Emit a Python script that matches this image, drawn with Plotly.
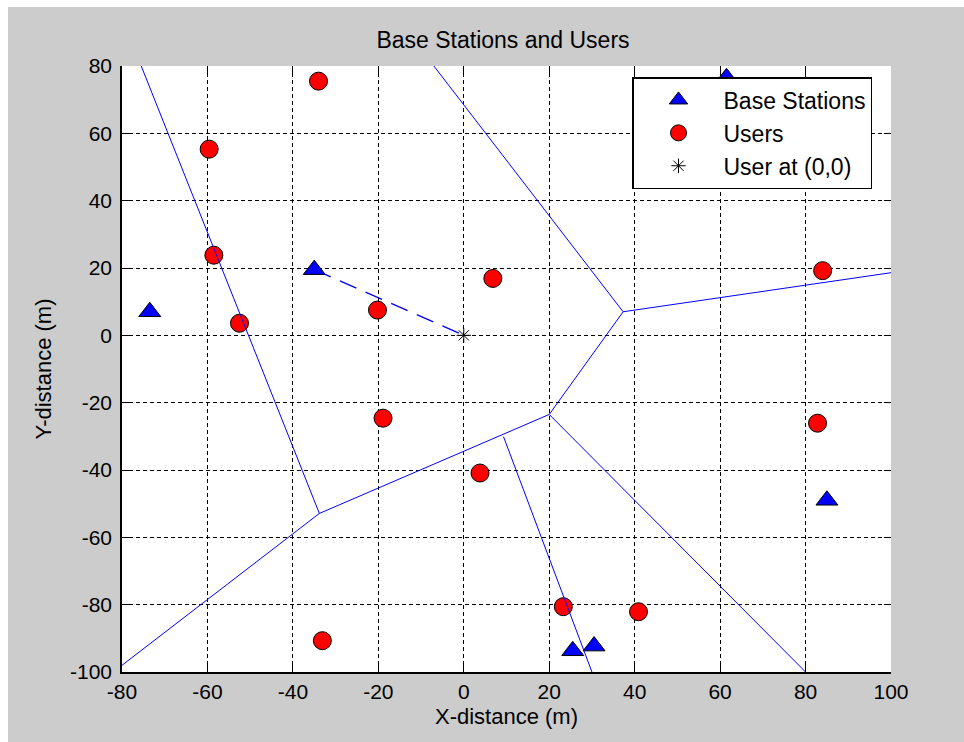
import plotly.graph_objects as go

# ---- data ----
bs_x = [-73.5, -35.0, 61.5, 85.0, 25.5, 30.5]
bs_y = [7.0, 19.5, 76.5, -49.0, -93.7, -92.3]

user_x = [-34.0, -59.6, -58.5, -52.5, -20.2, -18.9, 6.8, 84.0, 82.8, 3.8, 23.3, 40.9, -33.1]
user_y = [75.5, 55.3, 23.8, 3.6, 7.5, -24.6, 16.9, 19.2, -26.1, -40.9, -80.6, -82.1, -90.7]

origin_x = [0.0]
origin_y = [0.0]

link_x = [-35.0, 0.0]
link_y = [19.5, 0.0]

edge_x0 = [-75.5, -33.8, -33.8, 9.3, 20.0, 37.3, 37.3, 20.0]
edge_y0 = [80.0, -52.9, -52.9, -30.1, -23.5, 7.0, 7.0, -23.5]
edge_x1 = [-33.8, -80.0, 20.0, 30.0, 37.3, 100.0, -7.0, 80.0]
edge_y1 = [-52.9, -98.0, -23.5, -100.0, 7.0, 18.6, 80.0, -100.0]

x_ticks = [-80, -60, -40, -20, 0, 20, 40, 60, 80, 100]
x_ticklabels = ["-80", "-60", "-40", "-20", "0", "20", "40", "60", "80", "100"]
y_ticks = [-100, -80, -60, -40, -20, 0, 20, 40, 60, 80]
y_ticklabels = ["-100", "-80", "-60", "-40", "-20", "0", "20", "40", "60", "80"]

# ---- build segment arrays ----
ex, ey = [], []
for a, b, c, d in zip(edge_x0, edge_y0, edge_x1, edge_y1):
    ex += [a, c, None]
    ey += [b, d, None]

FONT = "Liberation Sans, Arial, sans-serif"

fig = go.Figure()

fig.add_trace(go.Scatter(
    x=bs_x, y=bs_y, mode="markers", name="Base Stations",
    marker=dict(symbol="triangle-up", size=19, color="#0000ff",
                line=dict(color="black", width=1)),
    legendgroup="a", legendrank=1))
fig.add_trace(go.Scatter(
    x=user_x, y=user_y, mode="markers", name="Users",
    marker=dict(symbol="circle", size=18, color="#ff0000",
                line=dict(color="black", width=1)),
    legendgroup="b", legendrank=2))
fig.add_trace(go.Scatter(
    x=ex, y=ey, mode="lines", showlegend=False, hoverinfo="skip",
    line=dict(color="#0000ff", width=1)))
fig.add_trace(go.Scatter(
    x=link_x, y=link_y, mode="lines", showlegend=False, hoverinfo="skip",
    line=dict(color="#0000ff", width=1.3, dash="18px,10px")))
fig.add_trace(go.Scatter(
    x=origin_x, y=origin_y, mode="markers", name="User at (0,0)",
    marker=dict(symbol="asterisk-open", size=12, color="black",
                line=dict(color="black", width=1)),
    legendgroup="c", legendrank=3))
# helper for mirrored ticks on top/right
fig.add_trace(go.Scatter(x=[None], y=[None], xaxis="x2", yaxis="y2",
                         showlegend=False, hoverinfo="skip"))

L, R, T, B = 122, 891, 66, 672
W, H = 964, 742
pw, ph = R - L, B - T

def px2paper_x(px):
    return (px - L) / pw

def px2paper_y(py):
    return (B - py) / ph

fig.add_shape(type="rect", xref="paper", yref="paper",
              x0=px2paper_x(8), x1=px2paper_x(W), y0=px2paper_y(H), y1=px2paper_y(7),
              fillcolor="#cccccc", line=dict(width=0), layer="below")
fig.add_shape(type="rect", xref="paper", yref="paper",
              x0=0, x1=1, y0=0, y1=1,
              fillcolor="white", line=dict(width=0), layer="below")

axis_common = dict(ticks="inside", ticklen=7, tickwidth=1, tickcolor="black",
                   zeroline=False)

fig.update_layout(
    width=W, height=H,
    margin=dict(l=L, r=W - R, t=T, b=H - B),
    paper_bgcolor="white", plot_bgcolor="white",
    font=dict(family=FONT, size=21, color="black"),
    title=dict(text="Base Stations and Users", x=px2paper_x(503), xref="paper",
               xanchor="center", y=1 - 40 / H, yanchor="middle",
               font=dict(family=FONT, size=23, color="black")),
    legend=dict(x=px2paper_x(632), y=px2paper_y(77), xanchor="left", yanchor="top",
                bgcolor="white", bordercolor="black", borderwidth=1.5,
                font=dict(family=FONT, size=23, color="black"),
                tracegroupgap=0, itemwidth=80),
    xaxis=dict(range=[-80, 100], tickvals=x_ticks, ticktext=x_ticklabels,
               showline=True, linecolor="black", linewidth=1.5,
               showgrid=True, gridcolor="black", gridwidth=1.2, griddash="4px,3px",
               title=dict(text="X-distance (m)", standoff=7,
                          font=dict(family=FONT, size=22, color="black")),
               automargin=False, **axis_common),
    yaxis=dict(range=[-100, 80], tickvals=y_ticks, ticktext=y_ticklabels,
               showline=True, linecolor="black", linewidth=1.5,
               showgrid=True, gridcolor="black", gridwidth=1.2, griddash="4px,3px",
               ticklabelstandoff=4,
               title=dict(text="Y-distance (m)", standoff=12,
                          font=dict(family=FONT, size=22, color="black")),
               automargin=False, **axis_common),
    xaxis2=dict(overlaying="x", matches="x", side="top", anchor="y2",
                tickvals=x_ticks, showticklabels=False, showgrid=False,
                showline=False, **axis_common),
    yaxis2=dict(overlaying="y", matches="y", side="right", anchor="x2",
                tickvals=y_ticks, showticklabels=False, showgrid=False,
                showline=False, **axis_common),
)

fig.write_html("out.html")
